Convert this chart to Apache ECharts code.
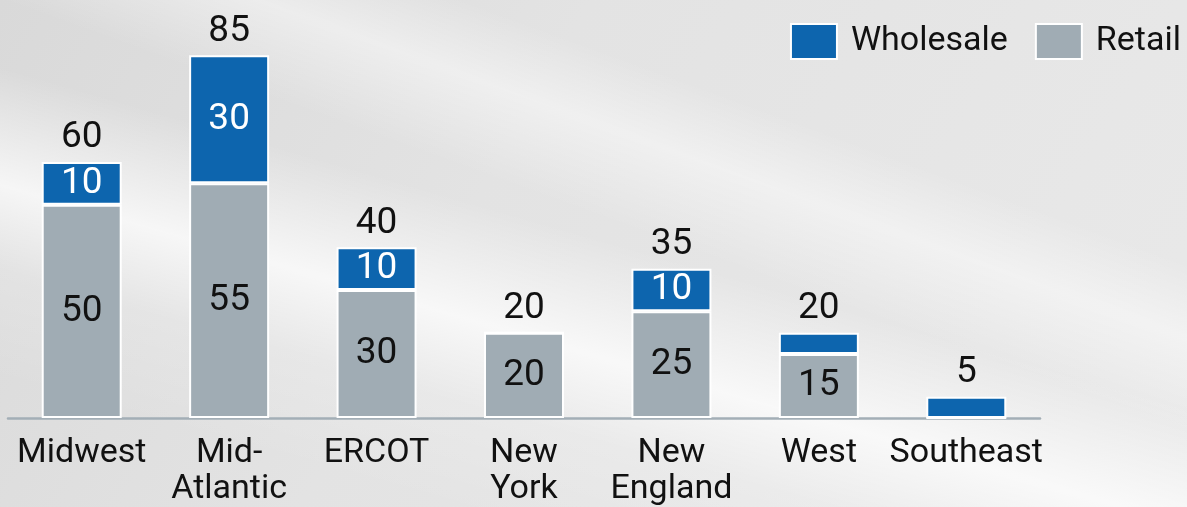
<!DOCTYPE html>
<html>
<head>
<meta charset="utf-8">
<script src="https://cdn.jsdelivr.net/npm/echarts@6/dist/echarts.min.js"></script>
<style>
  html, body { margin: 0; padding: 0; }
  body {
    width: 1187px; height: 507px; overflow: hidden;
    background:
      linear-gradient(196deg, rgba(255,255,255,0) 48%, rgba(255,255,255,0.75) 62%, rgba(255,255,255,0.2) 72%, rgba(255,255,255,0) 85%),
      linear-gradient(200deg, rgba(255,255,255,0) 28%, rgba(255,255,255,0.45) 36%, rgba(255,255,255,0) 46%),
      linear-gradient(120deg, #d9d9d9 0%, #e3e3e3 40%, #e9e9e9 100%);
  }
  #chart { width: 1187px; height: 507px; }
</style>
</head>
<body>
<div id="chart"></div>
<script>
const categories = ['Midwest', 'Mid-\nAtlantic', 'ERCOT', 'New\nYork', 'New\nEngland', 'West', 'Southeast'];
const retail = [50, 55, 30, 20, 25, 15, 0];
const wholesale = [10, 30, 10, 0, 10, 5, 5];
const totals = retail.map((v, i) => v + wholesale[i]);

const FONT = 'Roboto';
const chart = echarts.init(document.getElementById('chart'), null, { renderer: 'canvas' });
chart.setOption({
  backgroundColor: 'transparent',
  animation: false,
  textStyle: { fontFamily: FONT },
  legend: {
    right: 1, top: 18,
    icon: 'rect',
    itemWidth: 46, itemHeight: 35, itemGap: 27,
    textStyle: { fontFamily: FONT, fontSize: 34, color: '#111', padding: [0, 0, 0, 9] },
    data: [
      { name: 'Wholesale', itemStyle: { color: '#0d65ae', borderColor: '#fff', borderWidth: 2 } },
      { name: 'Retail', itemStyle: { color: '#a0acb4', borderColor: '#fff', borderWidth: 2 } }
    ]
  },
  grid: { left: 8, right: 147, top: 34, bottom: 84, containLabel: false },
  xAxis: {
    type: 'category',
    data: categories,
    axisLine: { lineStyle: { color: '#a3aeb6', width: 2.5 } },
    axisTick: { show: false },
    axisLabel: { fontFamily: FONT, fontSize: 34, color: '#111', margin: 17, lineHeight: 36, interval: 0 }
  },
  yAxis: { type: 'value', min: 0, max: 90, show: false, splitLine: { show: false } },
  series: [
    {
      name: 'Retail', type: 'bar', stack: 'a', data: retail, barWidth: 80,
      itemStyle: { color: '#a0acb4', borderColor: '#fff', borderWidth: 2 },
      label: {
        show: true, position: 'inside', fontFamily: FONT, fontSize: 37, color: '#111',
        formatter: p => p.value >= 10 ? String(p.value) : ''
      }
    },
    {
      name: 'Wholesale', type: 'bar', stack: 'a', data: wholesale, barWidth: 80,
      itemStyle: { color: '#0d65ae', borderColor: '#fff', borderWidth: 2 },
      label: {
        show: true, position: 'inside', fontFamily: FONT, fontSize: 37, color: '#fff',
        formatter: p => p.value >= 10 ? String(p.value) : ''
      }
    },
    {
      name: 'Total', type: 'line', data: totals,
      symbol: 'circle', symbolSize: 1,
      itemStyle: { color: 'rgba(0,0,0,0)' },
      lineStyle: { width: 0, color: 'rgba(0,0,0,0)' }, silent: true,
      label: { show: true, position: 'top', distance: 5, fontFamily: FONT, fontSize: 37, color: '#111' }
    }
  ]
});
</script>
</body>
</html>
